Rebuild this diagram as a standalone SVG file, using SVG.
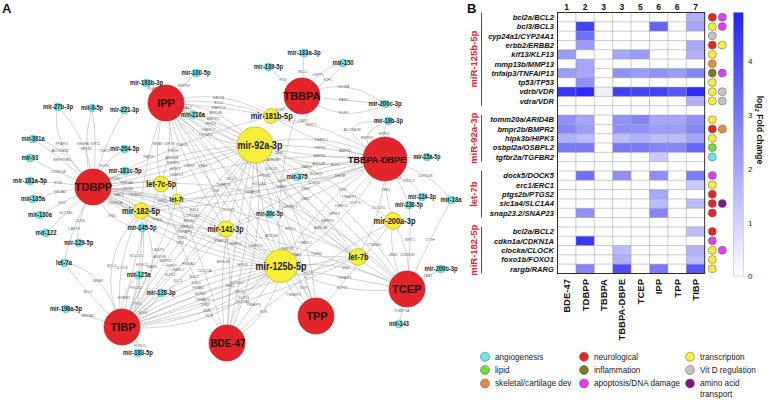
<svg xmlns="http://www.w3.org/2000/svg" width="770" height="401" viewBox="0 0 770 401">
<style>
text{font-family:'Liberation Sans',Arial,sans-serif}
.e{fill:none;stroke:#a9a9a9;stroke-width:0.5}
.el text{font-size:3.6px;fill:#6a6a6a;text-anchor:middle}
.red{fill:#e3242b;stroke:#b8141b;stroke-width:0.6}
.yel{fill:#f7ee3a;stroke:#b9a81c;stroke-width:0.6}
.cy{fill:#6fe3ea;stroke:#38aeb6;stroke-width:0.4}
.rl{font-weight:bold;font-size:11px;fill:#2a0606;text-anchor:middle}
.rl.sm{font-size:9.6px}
.yl{font-weight:bold;fill:#1a1a1a;text-anchor:middle}
.cl{font-weight:bold;font-size:6.3px;fill:#1e1e1e;text-anchor:middle}
.gl{font-weight:bold;font-style:italic;font-size:7.6px;fill:#111;text-anchor:end}
.grp{font-weight:bold;font-size:9.5px;fill:#e3242b;text-anchor:middle}
.cn{font-weight:bold;font-size:9.5px;fill:#111;text-anchor:end}
.hn{font-weight:bold;font-size:8.5px;fill:#111;text-anchor:middle}
.dot{stroke:#5a5a5a;stroke-width:0.5}
.lg{font-size:8.2px;fill:#222}
.c-cy{fill:#66e4ec}.c-re{fill:#e3242b}.c-ye{fill:#f7ee3a}.c-gr{fill:#6ee03a}.c-ol{fill:#807a22}.c-gy{fill:#c4c4c4}.c-or{fill:#ea8a3e}.c-ma{fill:#e040ea}.c-pu{fill:#7d1a7d}
</style>
<defs>
<linearGradient id="cb" x1="0" y1="1" x2="0" y2="0">
<stop offset="0" stop-color="#ffffff"/><stop offset="1" stop-color="#2424ee"/>
</linearGradient>
</defs>
<rect width="770" height="401" fill="#ffffff"/>
<text x="2" y="13.3" font-size="13" font-weight="bold" fill="#111">A</text>
<text x="467" y="13" font-size="13" font-weight="bold" fill="#111">B</text>

<g id="connectors">
<g class="e">
<path d="M255 145Q220.8 102.4 166 103"/><path d="M255 145Q215.7 113.2 166 103"/><path d="M255 145L166 103"/><path d="M255 145Q205.3 134.8 166 103"/><path d="M255 145Q200.2 145.6 166 103"/>
<path d="M255 145Q169.5 148.5 93 187"/><path d="M255 145Q172.5 160.2 93 187"/><path d="M255 145Q175.5 171.8 93 187"/><path d="M255 145Q178.5 183.5 93 187"/>
<path d="M255 145Q169.1 221.8 122 327"/><path d="M255 145Q182 231.3 122 327"/><path d="M255 145Q195 240.7 122 327"/><path d="M255 145Q207.9 250.2 122 327"/>
<path d="M255 145Q210.8 239.6 226 343"/><path d="M255 145Q230.6 242.5 226 343"/><path d="M255 145Q250.4 245.5 226 343"/><path d="M255 145Q270.2 248.4 226 343"/>
<path d="M255 145Q257.3 240.6 316 316"/><path d="M255 145Q276.1 233.9 316 316"/><path d="M255 145Q294.9 227.1 316 316"/><path d="M255 145Q313.7 220.4 316 316"/>
<path d="M255 145Q310.3 238.8 407 289"/><path d="M255 145Q324.1 224.3 407 289"/><path d="M255 145Q337.9 209.7 407 289"/><path d="M255 145Q351.7 195.2 407 289"/>
<path d="M255 145Q317.4 175.9 385 159"/><path d="M255 145Q319.1 160 385 159"/><path d="M255 145Q320.9 144 385 159"/><path d="M255 145Q322.6 128.1 385 159"/>
<path d="M281 266Q239.8 173 166 103"/><path d="M281 266L166 103"/><path d="M281 266Q207.2 196 166 103"/>
<path d="M281 266Q200.9 193.4 93 187"/><path d="M281 266Q196.3 204.4 93 187"/><path d="M281 266Q191.6 215.5 93 187"/><path d="M281 266L93 187"/><path d="M281 266Q182.4 237.5 93 187"/><path d="M281 266Q177.7 248.6 93 187"/><path d="M281 266Q173.1 259.6 93 187"/>
<path d="M281 266Q271.5 181 302 96"/>
<path d="M281 266Q347.4 226.5 385 159"/><path d="M281 266L385 159"/><path d="M281 266Q318.6 198.5 385 159"/>
<path d="M281 266Q340.4 297.1 407 289"/><path d="M281 266L407 289"/><path d="M281 266Q347.6 257.9 407 289"/>
<path d="M281 266Q288.7 297.8 316 316"/><path d="M281 266Q308.3 284.2 316 316"/>
<path d="M281 266Q233.9 290.5 226 343"/><path d="M281 266L226 343"/><path d="M281 266Q273.1 318.5 226 343"/>
<path d="M281 266Q186.4 257.2 122 327"/><path d="M281 266Q190.7 268.5 122 327"/><path d="M281 266Q195 279.7 122 327"/><path d="M281 266Q199.3 290.9 122 327"/><path d="M281 266Q203.7 302.1 122 327"/><path d="M281 266Q208 313.3 122 327"/><path d="M281 266Q212.3 324.5 122 327"/><path d="M281 266Q216.6 335.8 122 327"/>
<path d="M358 257Q231.9 197.8 93 187"/><path d="M358 257Q216.5 260 93 187"/>
<path d="M358 257Q386.5 208 385 159"/>
<path d="M358 257Q280.8 156.6 166 103"/><path d="M358 257Q268.3 172.2 166 103"/><path d="M358 257Q255.7 187.8 166 103"/><path d="M358 257Q243.2 203.4 166 103"/>
<path d="M358 257Q234.3 272.8 122 327"/><path d="M358 257L122 327"/><path d="M358 257Q245.7 311.2 122 327"/>
<path d="M141 211Q113 207 93 187"/><path d="M141 211Q121 191 93 187"/>
<path d="M141 211Q267.2 204.6 385 159"/><path d="M141 211L385 159"/><path d="M141 211Q258.8 165.4 385 159"/>
<path d="M141 211Q143.5 157 166 103"/>
<path d="M141 211Q92 262.6 122 327"/><path d="M141 211Q111.8 265.8 122 327"/><path d="M141 211Q151.2 272.2 122 327"/><path d="M141 211Q171 275.4 122 327"/>
<path d="M226 229Q163.5 194 93 187"/><path d="M226 229Q155.5 232 93 187"/>
<path d="M226 229Q182 166 166 103"/><path d="M226 229Q210 166 166 103"/>
<path d="M226 229Q166 272 122 327"/><path d="M226 229Q182 284 122 327"/>
<path d="M226 229Q234 286 226 343"/>
<path d="M226 229Q305.5 184 385 159"/><path d="M226 229Q305.5 204 385 159"/>
<path d="M226 229Q316.5 249 407 289"/>
<path d="M161 184Q127 179.5 93 187"/><path d="M161 184Q127 191.5 93 187"/>
<path d="M161 184Q151.5 143.5 166 103"/><path d="M161 184Q175.5 143.5 166 103"/>
<path d="M161 184Q131.5 255.5 122 327"/>
<path d="M161 184Q273 147.5 385 159"/>
<path d="M161 184Q296 176.5 407 289"/>
<path d="M161 184Q183.5 263.5 226 343"/>
<path d="M177 199Q135 197 93 187"/><path d="M177 199Q175.5 151 166 103"/><path d="M177 199Q155.5 263 122 327"/><path d="M177 199Q281 195 385 159"/><path d="M177 199Q207.5 271 226 343"/>
<path d="M271 116L302 96"/><path d="M271 116Q319.5 136 302 96"/>
<path d="M271 116Q218.5 85.5 166 103"/><path d="M271 116Q218.5 95.5 166 103"/><path d="M271 116Q218.5 105.5 166 103"/>
<path d="M271 116Q328 123.5 385 159"/><path d="M271 116Q328 151.5 385 159"/>
<path d="M271 116Q182 137.5 93 187"/>
<path d="M393 221Q383 190 385 159"/><path d="M393 221Q386 255 407 289"/><path d="M393 221Q414 255 407 289"/><path d="M393 221L316 316"/><path d="M393 221Q279.5 144 166 103"/><path d="M393 221Q309.5 266 226 343"/>
<path d="M196 73L166 103"/><path d="M146.5 83L166 103"/><path d="M193 115Q192.5 106 166 103"/>
<path d="M58 107Q48 140 93 187"/><path d="M58 107Q90 140 93 187"/>
<path d="M92 108Q80 150 93 187"/><path d="M92 108Q98 140 93 187"/>
<path d="M124.5 110Q100 152 93 187"/>
<path d="M33 139Q57 139 93 187"/><path d="M33 139Q61 157 93 187"/>
<path d="M30 158Q54.5 171.5 93 187"/><path d="M30 181Q54.5 182 93 187"/><path d="M33 199Q57 191 93 187"/><path d="M40 215Q57.5 205 93 187"/><path d="M46 233Q62.5 216 93 187"/><path d="M78.7 243Q74.1 227 93 187"/>
<path d="M64 263Q69.5 233 93 187"/><path d="M64 263Q83 289 122 327"/><path d="M64 263Q103 267 122 327"/>
<path d="M66 309Q82 314 122 327"/><path d="M138 353Q150 351 122 327"/>
<path d="M138.7 275Q117.6 295 122 327"/><path d="M138.7 275Q143.6 307 122 327"/>
<path d="M161 293Q144.5 316 122 327"/>
<path d="M142 228Q140 298.5 122 327"/><path d="M142 228Q106.5 224.5 93 187"/>
<path d="M124.7 149Q99 164 93 187"/><path d="M125 171Q117 178 93 187"/>
<path d="M304 53L302 96"/><path d="M268.5 67Q280.7 77.5 302 96"/>
<path d="M343 63Q313.5 70.5 302 96"/><path d="M343 63Q333.5 80.5 302 96"/>
<path d="M385 104Q343.5 74 302 96"/><path d="M385 104L302 96"/><path d="M385 104Q343.5 126 302 96"/>
<path d="M388.5 121Q317.2 120 385 159"/><path d="M388.5 121Q347.2 136 385 159"/><path d="M388.5 121Q381.2 128 385 159"/>
<path d="M427 157L385 159"/>
<path d="M297 177Q329 162 385 159"/><path d="M297 177Q339 184 385 159"/>
<path d="M422 197Q415.5 183.5 385 159"/><path d="M409 205Q397 174.5 385 159"/><path d="M409 205Q412 233.5 407 289"/>
<path d="M451 200Q431.7 235.5 407 289"/><path d="M451 200Q432.7 172.5 385 159"/>
<path d="M441 269Q432 273 407 289"/><path d="M399 324L407 289"/>
<path d="M269.5 214Q299.2 245 316 316"/>
</g>
<g class="el">
<text x="215.7" y="114.4">ARID4B</text><text x="213.1" y="119.8">BMPR2</text><text x="210.5" y="125.2">HIPK3</text><text x="207.9" y="130.6">OSBPL2</text><text x="205.3" y="136">TGFBR2</text>
<text x="171.8" y="158.5">ARID4B</text><text x="173.3" y="164.3">BMPR2</text><text x="174.8" y="170.1">HIPK3</text><text x="176.3" y="176">OSBPL2</text>
<text x="159.7" y="258">ARID4B</text><text x="165.6" y="262.4">BMPR2</text><text x="171.5" y="266.6">HIPK3</text><text x="177.4" y="271">OSBPL2</text>
<text x="223.3" y="262.9">ARID4B</text><text x="235.6" y="244.5">BMPR2</text><text x="242.4" y="265.7">HIPK3</text><text x="255.4" y="247.4">OSBPL2</text>
<text x="271.4" y="236.7">ARID4B</text><text x="287.1" y="250.4">BMPR2</text><text x="290.2" y="230">HIPK3</text><text x="305.1" y="244">OSBPL2</text>
<text x="320.6" y="229.1">ARID4B</text><text x="327.5" y="221.8">BMPR2</text><text x="334.5" y="214.6">HIPK3</text><text x="341.4" y="207.3">OSBPL2</text>
<text x="318.7" y="165.2">ARID4B</text><text x="319.6" y="157.2">BMPR2</text><text x="320.4" y="149.2">HIPK3</text><text x="321.3" y="141.3">OSBPL2</text>
<text x="231.7" y="179.9">BCL3</text><text x="223.5" y="185.7">TNFAIP3</text><text x="215.3" y="191.5">VDR</text>
<text x="194" y="211.2">BCL3</text><text x="191.6" y="216.7">CYP24A1</text><text x="189.3" y="222.2">ERBB2</text><text x="187" y="227.7">MMP13</text><text x="184.7" y="233.2">TNFAIP3</text><text x="182.4" y="238.7">TP53</text><text x="180" y="244.2">VDR</text>
<text x="281.5" y="182.2">VDR</text>
<text x="355.1" y="204">KLF13</text><text x="348.6" y="197.7">TNFAIP3</text><text x="342" y="191.3">VDR</text>
<text x="342.2" y="288.5">KLF13</text><text x="344" y="278.7">TNFAIP3</text><text x="345.8" y="268.9">VDR</text>
<text x="293.6" y="295.6">TNFAIP3</text><text x="303.4" y="288.8">VDR</text>
<text x="243.7" y="298.7">KLF13</text><text x="253.5" y="305.7">TNFAIP3</text><text x="263.3" y="312.7">VDR</text>
<text x="194" y="278">BCL2</text><text x="196.1" y="283.7">BCL3</text><text x="198.3" y="289.3">ERBB2</text><text x="200.4" y="294.9">KLF13</text><text x="202.6" y="300.5">TNFAIP3</text><text x="204.8" y="306.1">TP53</text><text x="206.9" y="311.7">VDR</text><text x="209" y="317.4">VDR</text>
<text x="228.7" y="211.1">DOCK5</text><text x="221" y="242.2">SNAP23</text>
<text x="379" y="209.2">DOCK5</text>
<text x="271.4" y="169.5">DOCK5</text><text x="265.1" y="177.3">PTGS2</text><text x="258.9" y="185.1">SLC1A4</text><text x="252.6" y="192.9">SNAP23</text>
<text x="237.2" y="283.6">DOCK5</text><text x="240" y="293.2">ERC1</text><text x="242.9" y="302.8">SLC1A4</text>
<text x="115" y="204.2">CDKN1A</text><text x="119" y="196.2">RARG</text>
<text x="313.6" y="184">CLOCK</text><text x="316.7" y="174.8">FOXO1</text><text x="306.5" y="168.2">RARG</text>
<text x="148.5" y="158.2">RARG</text>
<text x="111.8" y="267">BCL2</text><text x="121.6" y="268.6">CLOCK</text><text x="142.2" y="266">FOXO1</text><text x="152" y="267.6">RARG</text>
<text x="161.5" y="202.2">ZEB2</text><text x="157.5" y="221.2">PTEN</text>
<text x="189" y="167.2">TGFB2</text><text x="203" y="167.2">ZEB1</text>
<text x="170" y="276.2">KLF12</text><text x="178" y="282.2">DLC1</text>
<text x="230" y="287.2">ZEB1</text>
<text x="305.5" y="190.2">ZEB1</text><text x="305.5" y="200.2">ZEB2</text>
<text x="316.5" y="255.2">TGFB2</text>
<text x="127" y="183.7">HMGA2</text><text x="127" y="189.7">LIN28B</text>
<text x="157.5" y="144.7">NRAS</text><text x="169.5" y="144.7">IGF1R</text>
<text x="136.5" y="256.7">BCL2L1</text>
<text x="273" y="160.7">ARID3B</text>
<text x="290" y="207.7">IGF2BP1</text>
<text x="188.5" y="264.7">HMGA2</text>
<text x="135" y="196.2">TRIM71</text><text x="173.5" y="152.2">IGF1R</text><text x="157.9" y="251.4">CASP3</text><text x="281" y="188.2">THBS1</text><text x="204.5" y="272.2">CDC25A</text>
<text x="280.3" y="111.2">SOX7</text><text x="303" y="122.2">CBX7</text>
<text x="218.5" y="98.7">KAT2B</text><text x="218.5" y="103.7">BCL2</text><text x="218.5" y="108.7">MAPK14</text>
<text x="310.9" y="125.9">SIRT1</text><text x="345.1" y="151.5">BMPR2</text>
<text x="182" y="145.7">PLAG1</text>
<text x="386" y="191.2">ZEB1</text><text x="393" y="256.2">ZEB2</text><text x="407" y="256.2">CDKN1B</text><text x="374" y="246.2">CTNNB1</text><text x="279.5" y="154.2">ZEB2</text><text x="309.5" y="275.2">DLC1</text>
<text x="184" y="86.6">BMPR2</text><text x="152.3" y="90.2">PLAU</text><text x="186" y="108.7">SMAD7</text>
<text x="61.8" y="144.7">PPARG</text><text x="82.8" y="144.7">VEGFA</text>
<text x="86.3" y="150">NFKB1</text><text x="95.3" y="145">SIRT1</text>
<text x="104.4" y="151.5">TIMP3</text>
<text x="60" y="152.2">ADORA2B</text><text x="62" y="161.2">SERPINE1</text>
<text x="58" y="173.2">CDKN1A</text><text x="58" y="184.2">FOS</text><text x="60" y="193.2">NR4A2</text><text x="62" y="204.2">KDR</text><text x="66" y="214.2">SLC7A1</text><text x="80" y="222.2">CDK6</text>
<text x="74" y="230.2">CASP3</text><text x="88" y="293.2">BCL2</text><text x="98" y="282.2">NRAS</text>
<text x="88" y="317.2">HMGA2</text><text x="140" y="346.7">FOXO1</text>
<text x="124" y="299.2">ERBB2</text><text x="137" y="305.2">TP53</text>
<text x="143" y="314.2">KLF4</text>
<text x="136" y="289.2">FSCN1</text><text x="112" y="217.2">IRS1</text>
<text x="104" y="167.2">SOX4</text><text x="113" y="179.7">NOTCH2</text>
<text x="303" y="73.2">MCL1</text><text x="283" y="80.7">FOS</text>
<text x="318" y="76.2">GSTP1</text><text x="328" y="81.2">E2F2</text>
<text x="343.5" y="88.2">VEGFA</text><text x="343.5" y="101.2">PAX6</text><text x="343.5" y="114.2">KLF9</text>
<text x="352" y="131.2">ADORA2B</text><text x="367" y="139.2">BMPR2</text><text x="384" y="135.2">HIPK3</text>
<text x="335" y="166.2">KLF5</text><text x="340" y="177.2">RHOB</text>
<text x="409" y="182.2">NR3C2</text><text x="397" y="179.2">CDK6</text><text x="410" y="241.2">SIRT1</text>
<text x="430" y="241.2">CTGF</text><text x="425" y="177.2">CDKN1B</text>
<text x="428" y="277.2">ZEB1</text><text x="402" y="312.2">DNMT3A</text>
<text x="296" y="256.2">SNAI1</text>
</g>
</g>

<g id="nodes">
<g id="n-IPP"><circle class="red" cx="166" cy="103" r="18"/><text class="rl" x="166" y="107">IPP</text></g>
<g id="n-TBBPA"><circle class="red" cx="302" cy="96" r="18"/><text class="rl" x="302" y="100">TBBPA</text></g>
<g id="n-TBBPA-DBPE"><circle class="red" cx="385" cy="159" r="22"/><text class="rl sm" x="377" y="162.6" textLength="58" lengthAdjust="spacingAndGlyphs">TBBPA-DBPE</text></g>
<g id="n-TDBPP"><circle class="red" cx="93" cy="187" r="18"/><text class="rl" x="93.5" y="191">TDBPP</text></g>
<g id="n-TIBP"><circle class="red" cx="122" cy="327" r="18"/><text class="rl" x="123" y="331">TIBP</text></g>
<g id="n-BDE-47"><circle class="red" cx="227" cy="343" r="18"/><text class="rl" x="228" y="347" textLength="35" lengthAdjust="spacingAndGlyphs">BDE-47</text></g>
<g id="n-TPP"><circle class="red" cx="316" cy="316" r="18"/><text class="rl" x="317" y="320">TPP</text></g>
<g id="n-TCEP"><circle class="red" cx="407" cy="289" r="18"/><text class="rl" x="406.7" y="293">TCEP</text></g>

<g id="n-mir-92a-3p"><circle class="yel" cx="255" cy="145" r="18"/><text class="yl" x="260" y="149" font-size="10.5" textLength="45" lengthAdjust="spacingAndGlyphs">mir-92a-3p</text></g>
<g id="n-mir-125b-5p"><circle class="yel" cx="281" cy="266" r="16.5"/><text class="yl" x="281" y="270" font-size="10.5" textLength="51" lengthAdjust="spacingAndGlyphs">mir-125b-5p</text></g>
<g id="n-mir-141-3p"><circle class="yel" cx="226" cy="229" r="8"/><text class="yl" x="225.5" y="232.3" font-size="9" textLength="36" lengthAdjust="spacingAndGlyphs">mir-141-3p</text></g>
<g id="n-mir-181b-5p"><circle class="yel" cx="271" cy="116" r="7.5"/><text class="yl" x="271.7" y="119" font-size="8.5" textLength="42" lengthAdjust="spacingAndGlyphs">mir-181b-5p</text></g>
<g id="n-let-7c-5p"><circle class="yel" cx="161" cy="184" r="8"/><text class="yl" x="161.3" y="187" font-size="8.5" textLength="30" lengthAdjust="spacingAndGlyphs">let-7c-5p</text></g>
<g id="n-let-7i"><circle class="yel" cx="177" cy="199" r="5"/><text class="yl" x="176.5" y="201.6" font-size="7" textLength="14" lengthAdjust="spacingAndGlyphs">let-7i</text></g>
<g id="n-mir-182-5p"><circle class="yel" cx="141" cy="211" r="8"/><text class="yl" x="141" y="214.2" font-size="9" textLength="38" lengthAdjust="spacingAndGlyphs">mir-182-5p</text></g>
<g id="n-mir-200a-3p"><circle class="yel" cx="393" cy="221" r="8.5"/><text class="yl" x="394.5" y="224.2" font-size="9" textLength="42" lengthAdjust="spacingAndGlyphs">mir-200a-3p</text></g>
<g id="n-let-7b"><circle class="yel" cx="358" cy="257" r="8.5"/><text class="yl" x="358.5" y="260" font-size="8.5" textLength="20" lengthAdjust="spacingAndGlyphs">let-7b</text></g>

<g id="n-mir-100-5p"><circle class="cy" cx="196" cy="73" r="4"/><text class="cl" x="196" y="75.3" textLength="29" lengthAdjust="spacingAndGlyphs">mir-100-5p</text></g>
<g id="n-mir-193b-3p"><circle class="cy" cx="146.5" cy="83" r="4"/><text class="cl" x="146.5" y="85.3" textLength="33" lengthAdjust="spacingAndGlyphs">mir-193b-3p</text></g>
<g id="n-mir-27b-3p"><circle class="cy" cx="58" cy="107" r="4"/><text class="cl" x="58" y="109.3" textLength="30" lengthAdjust="spacingAndGlyphs">mir-27b-3p</text></g>
<g id="n-mir-9-5p"><circle class="cy" cx="92" cy="108" r="4"/><text class="cl" x="92" y="110.3" textLength="22" lengthAdjust="spacingAndGlyphs">mir-9-5p</text></g>
<g id="n-mir-221-3p"><circle class="cy" cx="124.5" cy="110" r="4"/><text class="cl" x="124.5" y="112.3" textLength="29" lengthAdjust="spacingAndGlyphs">mir-221-3p</text></g>
<g id="n-mir-216a"><circle class="cy" cx="193" cy="115" r="4"/><text class="cl" x="193" y="117.3" textLength="24" lengthAdjust="spacingAndGlyphs">mir-216a</text></g>
<g id="n-mir-301a"><circle class="cy" cx="33" cy="139" r="4"/><text class="cl" x="33" y="141.3" textLength="23" lengthAdjust="spacingAndGlyphs">mir-301a</text></g>
<g id="n-mir-93"><circle class="cy" cx="30" cy="158" r="4"/><text class="cl" x="30" y="160.3" textLength="17" lengthAdjust="spacingAndGlyphs">mir-93</text></g>
<g id="n-mir-181a-5p"><circle class="cy" cx="30" cy="181" r="4"/><text class="cl" x="30" y="183.3" textLength="34" lengthAdjust="spacingAndGlyphs">mir-181a-5p</text></g>
<g id="n-mir-135a"><circle class="cy" cx="33" cy="199" r="4"/><text class="cl" x="33" y="201.3" textLength="24" lengthAdjust="spacingAndGlyphs">mir-135a</text></g>
<g id="n-mir-130a"><circle class="cy" cx="40" cy="215" r="4"/><text class="cl" x="40" y="217.3" textLength="24" lengthAdjust="spacingAndGlyphs">mir-130a</text></g>
<g id="n-mir-122"><circle class="cy" cx="46" cy="233" r="4"/><text class="cl" x="46" y="235.3" textLength="21" lengthAdjust="spacingAndGlyphs">mir-122</text></g>
<g id="n-mir-129-5p"><circle class="cy" cx="78.7" cy="243" r="4"/><text class="cl" x="78.7" y="245.3" textLength="29" lengthAdjust="spacingAndGlyphs">mir-129-5p</text></g>
<g id="n-let-7a"><circle class="cy" cx="64" cy="263" r="4"/><text class="cl" x="64" y="265.3" textLength="16" lengthAdjust="spacingAndGlyphs">let-7a</text></g>
<g id="n-mir-204-5p"><circle class="cy" cx="124.7" cy="149" r="4"/><text class="cl" x="124.7" y="151.3" textLength="29" lengthAdjust="spacingAndGlyphs">mir-204-5p</text></g>
<g id="n-mir-181c-5p"><circle class="cy" cx="125" cy="171" r="4"/><text class="cl" x="125" y="173.3" textLength="33" lengthAdjust="spacingAndGlyphs">mir-181c-5p</text></g>
<g id="n-mir-145-5p"><circle class="cy" cx="142" cy="228" r="4"/><text class="cl" x="142" y="230.3" textLength="29" lengthAdjust="spacingAndGlyphs">mir-145-5p</text></g>
<g id="n-mir-125a"><circle class="cy" cx="138.7" cy="275" r="4"/><text class="cl" x="138.7" y="277.3" textLength="24" lengthAdjust="spacingAndGlyphs">mir-125a</text></g>
<g id="n-mir-128-3p"><circle class="cy" cx="161" cy="293" r="4"/><text class="cl" x="161" y="295.3" textLength="29" lengthAdjust="spacingAndGlyphs">mir-128-3p</text></g>
<g id="n-mir-196a-5p"><circle class="cy" cx="66" cy="309" r="4"/><text class="cl" x="66" y="311.3" textLength="32" lengthAdjust="spacingAndGlyphs">mir-196a-5p</text></g>
<g id="n-mir-183-5p"><circle class="cy" cx="138" cy="353" r="4"/><text class="cl" x="138" y="355.3" textLength="30" lengthAdjust="spacingAndGlyphs">mir-183-5p</text></g>
<g id="n-mir-133a-3p"><circle class="cy" cx="304" cy="53" r="4"/><text class="cl" x="304" y="55.3" textLength="33" lengthAdjust="spacingAndGlyphs">mir-133a-3p</text></g>
<g id="n-mir-139-5p"><circle class="cy" cx="268.5" cy="67" r="4"/><text class="cl" x="268.5" y="69.3" textLength="29" lengthAdjust="spacingAndGlyphs">mir-139-5p</text></g>
<g id="n-mir-150"><circle class="cy" cx="343" cy="63" r="4"/><text class="cl" x="343" y="65.3" textLength="21" lengthAdjust="spacingAndGlyphs">mir-150</text></g>
<g id="n-mir-200c-3p"><circle class="cy" cx="385" cy="104" r="4"/><text class="cl" x="385" y="106.3" textLength="33" lengthAdjust="spacingAndGlyphs">mir-200c-3p</text></g>
<g id="n-mir-19b-3p"><circle class="cy" cx="388.5" cy="121" r="4"/><text class="cl" x="388.5" y="123.3" textLength="29" lengthAdjust="spacingAndGlyphs">mir-19b-3p</text></g>
<g id="n-mir-15a-5p"><circle class="cy" cx="427" cy="157" r="4"/><text class="cl" x="427" y="159.3" textLength="27" lengthAdjust="spacingAndGlyphs">mir-15a-5p</text></g>
<g id="n-mir-375"><circle class="cy" cx="297" cy="177" r="4"/><text class="cl" x="297" y="179.3" textLength="21" lengthAdjust="spacingAndGlyphs">mir-375</text></g>
<g id="n-mir-124-3p"><circle class="cy" cx="422" cy="197" r="4"/><text class="cl" x="422" y="199.3" textLength="28" lengthAdjust="spacingAndGlyphs">mir-124-3p</text></g>
<g id="n-mir-138-5p"><circle class="cy" cx="409" cy="205" r="4"/><text class="cl" x="409" y="207.3" textLength="28" lengthAdjust="spacingAndGlyphs">mir-138-5p</text></g>
<g id="n-mir-18a"><circle class="cy" cx="451" cy="200" r="4"/><text class="cl" x="451" y="202.3" textLength="21" lengthAdjust="spacingAndGlyphs">mir-18a</text></g>
<g id="n-mir-30c-5p"><circle class="cy" cx="269.5" cy="214" r="4"/><text class="cl" x="269.5" y="216.3" textLength="27" lengthAdjust="spacingAndGlyphs">mir-30c-5p</text></g>
<g id="n-mir-200b-3p"><circle class="cy" cx="441" cy="269" r="4"/><text class="cl" x="441" y="271.3" textLength="33" lengthAdjust="spacingAndGlyphs">mir-200b-3p</text></g>
<g id="n-mir-143"><circle class="cy" cx="399" cy="324" r="4"/><text class="cl" x="399" y="326.3" textLength="20" lengthAdjust="spacingAndGlyphs">mir-143</text></g>
</g>

<g id="heatmap">
<rect x="557.5" y="12.5" width="147.2" height="260.96" fill="#ffffff"/>
<g>
<rect x="686.3" y="12.5" width="18.4" height="9.32" fill="#b1b1fb"/>
<rect x="575.9" y="21.82" width="18.4" height="9.32" fill="#4242f5"/><rect x="649.5" y="21.82" width="18.4" height="9.32" fill="#6464f7"/><rect x="686.3" y="21.82" width="18.4" height="9.32" fill="#a6a6fa"/>
<rect x="575.9" y="31.14" width="18.4" height="9.32" fill="#6f6ff7"/>
<rect x="575.9" y="40.46" width="18.4" height="9.32" fill="#9b9bfa"/><rect x="686.3" y="40.46" width="18.4" height="9.32" fill="#a6a6fa"/>
<rect x="557.5" y="49.78" width="18.4" height="9.32" fill="#9b9bfa"/><rect x="612.7" y="49.78" width="18.4" height="9.32" fill="#a6a6fa"/><rect x="631.1" y="49.78" width="18.4" height="9.32" fill="#9b9bfa"/><rect x="686.3" y="49.78" width="18.4" height="9.32" fill="#b1b1fb"/>
<rect x="575.9" y="59.1" width="18.4" height="9.32" fill="#a6a6fa"/>
<rect x="557.5" y="68.42" width="18.4" height="9.32" fill="#9b9bfa"/><rect x="575.9" y="68.42" width="18.4" height="9.32" fill="#a6a6fa"/><rect x="612.7" y="68.42" width="18.4" height="9.32" fill="#9090f9"/><rect x="631.1" y="68.42" width="18.4" height="9.32" fill="#9b9bfa"/><rect x="649.5" y="68.42" width="18.4" height="9.32" fill="#9090f9"/><rect x="667.9" y="68.42" width="18.4" height="9.32" fill="#9b9bfa"/><rect x="686.3" y="68.42" width="18.4" height="9.32" fill="#8585f8"/>
<rect x="575.9" y="77.74" width="18.4" height="9.32" fill="#9090f9"/>
<rect x="557.5" y="87.06" width="18.4" height="9.32" fill="#3737f4"/><rect x="575.9" y="87.06" width="18.4" height="9.32" fill="#2c2cf4"/><rect x="594.3" y="87.06" width="18.4" height="9.32" fill="#f0f0fd"/><rect x="612.7" y="87.06" width="18.4" height="9.32" fill="#4242f5"/><rect x="631.1" y="87.06" width="18.4" height="9.32" fill="#4242f5"/><rect x="649.5" y="87.06" width="18.4" height="9.32" fill="#4242f5"/><rect x="667.9" y="87.06" width="18.4" height="9.32" fill="#5858f6"/><rect x="686.3" y="87.06" width="18.4" height="9.32" fill="#2c2cf4"/>
<rect x="686.3" y="96.38" width="18.4" height="9.32" fill="#b1b1fb"/>
<rect x="557.5" y="115.02" width="18.4" height="9.32" fill="#9090f9"/><rect x="575.9" y="115.02" width="18.4" height="9.32" fill="#a6a6fa"/><rect x="612.7" y="115.02" width="18.4" height="9.32" fill="#9090f9"/><rect x="631.1" y="115.02" width="18.4" height="9.32" fill="#8585f8"/><rect x="649.5" y="115.02" width="18.4" height="9.32" fill="#a6a6fa"/><rect x="667.9" y="115.02" width="18.4" height="9.32" fill="#a6a6fa"/><rect x="686.3" y="115.02" width="18.4" height="9.32" fill="#9090f9"/>
<rect x="557.5" y="124.34" width="18.4" height="9.32" fill="#8585f8"/><rect x="575.9" y="124.34" width="18.4" height="9.32" fill="#9b9bfa"/><rect x="612.7" y="124.34" width="18.4" height="9.32" fill="#9090f9"/><rect x="631.1" y="124.34" width="18.4" height="9.32" fill="#9090f9"/><rect x="649.5" y="124.34" width="18.4" height="9.32" fill="#9b9bfa"/><rect x="667.9" y="124.34" width="18.4" height="9.32" fill="#9b9bfa"/><rect x="686.3" y="124.34" width="18.4" height="9.32" fill="#8585f8"/>
<rect x="557.5" y="133.66" width="18.4" height="9.32" fill="#b1b1fb"/><rect x="575.9" y="133.66" width="18.4" height="9.32" fill="#bcbcfb"/><rect x="612.7" y="133.66" width="18.4" height="9.32" fill="#bcbcfb"/><rect x="631.1" y="133.66" width="18.4" height="9.32" fill="#b1b1fb"/><rect x="649.5" y="133.66" width="18.4" height="9.32" fill="#bcbcfb"/><rect x="667.9" y="133.66" width="18.4" height="9.32" fill="#bcbcfb"/><rect x="686.3" y="133.66" width="18.4" height="9.32" fill="#a6a6fa"/>
<rect x="557.5" y="142.98" width="18.4" height="9.32" fill="#7a7af8"/><rect x="575.9" y="142.98" width="18.4" height="9.32" fill="#7a7af8"/><rect x="612.7" y="142.98" width="18.4" height="9.32" fill="#7a7af8"/><rect x="631.1" y="142.98" width="18.4" height="9.32" fill="#7a7af8"/><rect x="649.5" y="142.98" width="18.4" height="9.32" fill="#8585f8"/><rect x="667.9" y="142.98" width="18.4" height="9.32" fill="#8585f8"/><rect x="686.3" y="142.98" width="18.4" height="9.32" fill="#6464f7"/>
<rect x="649.5" y="152.3" width="18.4" height="9.32" fill="#c8c8fc"/>
<rect x="575.9" y="170.94" width="18.4" height="9.32" fill="#6f6ff7"/><rect x="612.7" y="170.94" width="18.4" height="9.32" fill="#9090f9"/><rect x="649.5" y="170.94" width="18.4" height="9.32" fill="#9090f9"/><rect x="686.3" y="170.94" width="18.4" height="9.32" fill="#7a7af8"/>
<rect x="686.3" y="180.26" width="18.4" height="9.32" fill="#c8c8fc"/>
<rect x="649.5" y="189.58" width="18.4" height="9.32" fill="#a6a6fa"/>
<rect x="649.5" y="198.9" width="18.4" height="9.32" fill="#bcbcfb"/><rect x="686.3" y="198.9" width="18.4" height="9.32" fill="#bcbcfb"/>
<rect x="575.9" y="208.22" width="18.4" height="9.32" fill="#9090f9"/><rect x="649.5" y="208.22" width="18.4" height="9.32" fill="#8585f8"/>
<rect x="686.3" y="226.86" width="18.4" height="9.32" fill="#bcbcfb"/>
<rect x="575.9" y="236.18" width="18.4" height="9.32" fill="#3737f4"/>
<rect x="612.7" y="245.5" width="18.4" height="9.32" fill="#bcbcfb"/><rect x="686.3" y="245.5" width="18.4" height="9.32" fill="#b1b1fb"/>
<rect x="612.7" y="254.82" width="18.4" height="9.32" fill="#b1b1fb"/><rect x="686.3" y="254.82" width="18.4" height="9.32" fill="#bcbcfb"/>
<rect x="575.9" y="264.14" width="18.4" height="9.32" fill="#8585f8"/><rect x="612.7" y="264.14" width="18.4" height="9.32" fill="#4d4df5"/><rect x="649.5" y="264.14" width="18.4" height="9.32" fill="#7a7af8"/><rect x="686.3" y="264.14" width="18.4" height="9.32" fill="#5858f6"/>
</g>
<path fill="none" stroke="#9a9a9a" stroke-width="0.5" d="M575.9 12.5V273.46M594.3 12.5V273.46M612.7 12.5V273.46M631.1 12.5V273.46M649.5 12.5V273.46M667.9 12.5V273.46M686.3 12.5V273.46M557.5 21.82H704.7M557.5 31.14H704.7M557.5 40.46H704.7M557.5 49.78H704.7M557.5 59.1H704.7M557.5 68.42H704.7M557.5 77.74H704.7M557.5 87.06H704.7M557.5 96.38H704.7M557.5 105.7H704.7M557.5 115.02H704.7M557.5 124.34H704.7M557.5 133.66H704.7M557.5 142.98H704.7M557.5 152.3H704.7M557.5 161.62H704.7M557.5 170.94H704.7M557.5 180.26H704.7M557.5 189.58H704.7M557.5 198.9H704.7M557.5 208.22H704.7M557.5 217.54H704.7M557.5 226.86H704.7M557.5 236.18H704.7M557.5 245.5H704.7M557.5 254.82H704.7M557.5 264.14H704.7"/>
<rect x="557.5" y="12.5" width="147.2" height="260.96" fill="none" stroke="#1a1a1a" stroke-width="0.9"/>

<g>
<text class="hn" x="566.7" y="9.5">1</text><text class="hn" x="585.1" y="9.5">2</text><text class="hn" x="603.5" y="9.5">3</text><text class="hn" x="621.9" y="9.5">3</text><text class="hn" x="640.3" y="9.5">5</text><text class="hn" x="658.7" y="9.5">6</text><text class="hn" x="677.1" y="9.5">6</text><text class="hn" x="695.5" y="9.5">7</text>
</g>
<g>
<text class="cn" transform="translate(570.1,279) rotate(-90)">BDE-47</text>
<text class="cn" transform="translate(588.5,279) rotate(-90)">TDBPP</text>
<text class="cn" transform="translate(606.9,279) rotate(-90)">TBBPA</text>
<text class="cn" transform="translate(625.3,279) rotate(-90)">TBBPA-DBPE</text>
<text class="cn" transform="translate(643.7,279) rotate(-90)">TCEP</text>
<text class="cn" transform="translate(662.1,279) rotate(-90)">IPP</text>
<text class="cn" transform="translate(680.5,279) rotate(-90)">TPP</text>
<text class="cn" transform="translate(698.9,279) rotate(-90)">TIBP</text>
</g>
<g>
<text class="gl" x="554" y="19.9">bcl2a/BCL2</text>
<text class="gl" x="554" y="29.2">bcl3/BCL3</text>
<text class="gl" x="554" y="38.5">cyp24a1/CYP24A1</text>
<text class="gl" x="554" y="47.8">erbb2/ERBB2</text>
<text class="gl" x="554" y="57.1">klf13/KLF13</text>
<text class="gl" x="554" y="66.5">mmp13b/MMP13</text>
<text class="gl" x="554" y="75.8">tnfaip3/TNFAIP13</text>
<text class="gl" x="554" y="85.1">tp53/TP53</text>
<text class="gl" x="554" y="94.4">vdrb/VDR</text>
<text class="gl" x="554" y="103.7">vdra/VDR</text>
<text class="gl" x="554" y="122.4">tomm20a/ARID4B</text>
<text class="gl" x="554" y="131.7">bmpr2b/BMPR2</text>
<text class="gl" x="554" y="141">hipk3b/HIPK3</text>
<text class="gl" x="554" y="150.3">osbpl2a/OSBPL2</text>
<text class="gl" x="554" y="159.7">tgfbr2a/TGFBR2</text>
<text class="gl" x="554" y="178.3">dock5/DOCK5</text>
<text class="gl" x="554" y="187.6">erc1/ERC1</text>
<text class="gl" x="554" y="196.9">ptgs2b/PTGS2</text>
<text class="gl" x="554" y="206.3">slc1a4/SLC1A4</text>
<text class="gl" x="554" y="215.6">snap23.2/SNAP23</text>
<text class="gl" x="554" y="234.2">bcl2a/BCL2</text>
<text class="gl" x="554" y="243.5">cdkn1a/CDKN1A</text>
<text class="gl" x="554" y="252.9">clocka/CLOCK</text>
<text class="gl" x="554" y="262.2">foxo1b/FOXO1</text>
<text class="gl" x="554" y="271.5">rargb/RARG</text>
</g>
<g>
<text class="grp" transform="translate(477,59.1) rotate(-90)">miR-125b-5p</text>
<text class="grp" transform="translate(477,138.3) rotate(-90)">miR-92a-3p</text>
<text class="grp" transform="translate(477,194.2) rotate(-90)">let-7b</text>
<text class="grp" transform="translate(477,250.2) rotate(-90)">miR-182-5p</text>
<path fill="none" stroke="#222" stroke-width="0.8" d="M481.5 12.5V105.7M481.5 115V161.6M481.5 170.9V217.5M481.5 226.9V273.5"/>
</g>
<g class="dot">
<circle class="c-re" cx="712.3" cy="17.2" r="4"/><circle class="c-ma" cx="722.3" cy="17.2" r="4"/>
<circle class="c-ye" cx="712.3" cy="26.5" r="4"/><circle class="c-ma" cx="722.3" cy="26.5" r="4"/>
<circle class="c-gy" cx="712.3" cy="35.8" r="4"/>
<circle class="c-re" cx="712.3" cy="45.1" r="4"/><circle class="c-ye" cx="722.3" cy="45.1" r="4"/>
<circle class="c-ye" cx="712.3" cy="54.4" r="4"/>
<circle class="c-or" cx="712.3" cy="63.8" r="4"/>
<circle class="c-ol" cx="712.3" cy="73.1" r="4"/><circle class="c-ma" cx="722.3" cy="73.1" r="4"/>
<circle class="c-ye" cx="712.3" cy="82.4" r="4"/>
<circle class="c-ye" cx="712.3" cy="91.7" r="4"/><circle class="c-gy" cx="722.3" cy="91.7" r="4"/>
<circle class="c-ye" cx="712.3" cy="101" r="4"/><circle class="c-gy" cx="722.3" cy="101" r="4"/>
<circle class="c-ye" cx="712.3" cy="119.7" r="4"/>
<circle class="c-re" cx="712.3" cy="129" r="4"/><circle class="c-or" cx="722.3" cy="129" r="4"/>
<circle class="c-ye" cx="712.3" cy="138.3" r="4"/>
<circle class="c-gr" cx="712.3" cy="147.6" r="4"/>
<circle class="c-cy" cx="712.3" cy="157" r="4"/>
<circle class="c-ma" cx="712.3" cy="175.6" r="4"/>
<circle class="c-ye" cx="712.3" cy="184.9" r="4"/>
<circle class="c-re" cx="712.3" cy="194.2" r="4"/>
<circle class="c-re" cx="712.3" cy="203.6" r="4"/><circle class="c-pu" cx="722.3" cy="203.6" r="4"/>
<circle class="c-re" cx="712.3" cy="212.9" r="4"/>
<circle class="c-re" cx="712.3" cy="231.5" r="4"/>
<circle class="c-ma" cx="712.3" cy="240.8" r="4"/>
<circle class="c-ye" cx="712.3" cy="250.2" r="4"/><circle class="c-ma" cx="722.3" cy="250.2" r="4"/>
<circle class="c-ye" cx="712.3" cy="259.5" r="4"/>
<circle class="c-ye" cx="712.3" cy="268.8" r="4"/>
</g>
<g>
<rect x="733.3" y="12.3" width="10" height="263.7" fill="url(#cb)" stroke="#b5b5b5" stroke-width="0.5"/>
<g font-size="8" fill="#222">
<text x="748" y="64">4</text><text x="748" y="118">3</text><text x="748" y="172">2</text><text x="748" y="226">1</text><text x="748" y="279">0</text>
</g>
<text transform="translate(757,130) rotate(90)" font-size="8.5" font-weight="bold" fill="#111" text-anchor="middle">log<tspan font-size="6" dy="2">2</tspan><tspan dy="-2"> Fold change</tspan></text>
</g>
</g>

<g id="legend" class="dot">
<circle class="c-cy" cx="485" cy="356.7" r="4.5"/><circle class="c-re" cx="584" cy="356.7" r="4.5"/><circle class="c-ye" cx="690" cy="356.7" r="4.5"/>
<circle class="c-gr" cx="485" cy="370" r="4.5"/><circle class="c-ol" cx="584" cy="370" r="4.5"/><circle class="c-gy" cx="690" cy="370" r="4.5"/>
<circle class="c-or" cx="485" cy="383.5" r="4.5"/><circle class="c-ma" cx="584" cy="383.5" r="4.5"/><circle class="c-pu" cx="690" cy="383.5" r="4.5"/>
</g>
<g id="legend-text" class="lg">
<text class="lg" x="495" y="359.6">angiogenesis</text><text class="lg" x="594" y="359.6">neurological</text><text class="lg" x="700" y="359.6">transcription</text>
<text class="lg" x="495" y="372.9">lipid</text><text class="lg" x="594" y="372.9">inflammation</text><text class="lg" x="700" y="372.9">Vit D regulation</text>
<text class="lg" x="495" y="386.4">skeletal/cartilage dev</text><text class="lg" x="594" y="386.4">apoptosis/DNA damage</text><text class="lg" x="700" y="386.4">amino acid</text>
<text class="lg" x="700" y="397">transport</text>
</g>
</svg>
